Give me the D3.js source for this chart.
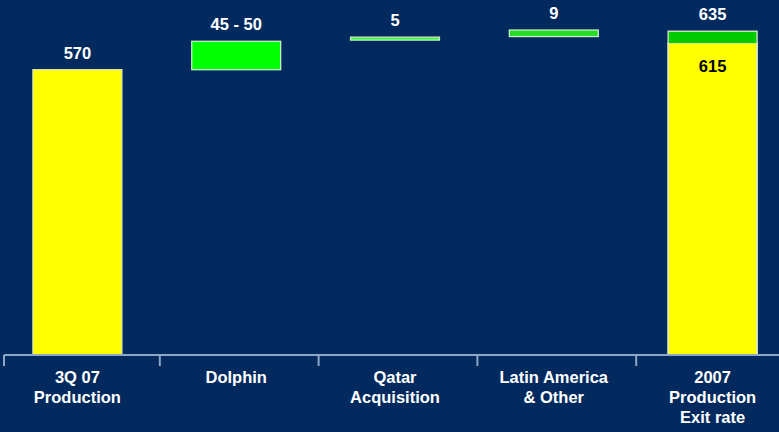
<!DOCTYPE html>
<html><head><meta charset="utf-8">
<script src="https://cdn.jsdelivr.net/npm/d3@7"></script>
<style>
html,body{margin:0;padding:0;background:#022a5e;}
svg{display:block;font-family:"Liberation Sans",Arial,sans-serif;}
</style></head>
<body>
<script>
// ---- data ----
const categories = ["3Q 07", "Dolphin", "Qatar", "Latin America", "2007"];
const categoryLines = [["3Q 07","Production"],["Dolphin"],["Qatar","Acquisition"],["Latin America","& Other"],["2007","Production","Exit rate"]];
const barStart = [88, 570, 620, 626, 88];
const barEnd   = [570, 618, 625, 637, 615];
const capEnd   = [null, null, null, null, 635];
const barKind  = ["total","increase","increase","increase","total"];
const valueLabels = ["570","45 - 50","5","9","635"];
const innerLabels = [null,null,null,null,"615"];

const W = 779, H = 432;
const axisY = 355;
const svg = d3.select("body").append("svg").attr("width", W).attr("height", H);
svg.append("rect").attr("width", W).attr("height", H).attr("fill", "#022a5e");

const x = d3.scaleBand().domain(categories).range([-2, 792]).paddingInner(0.44).paddingOuter(0.22);
const y = d3.scaleLinear().domain([88, 645]).range([axisY, 25.3]);

const fillFor = (k, i) => k === "total" ? "#ffff00" : (i === 1 ? "#00ff00" : i === 2 ? "#33ff33" : "#22dd22");
const strokeFor = k => k === "total" ? "#e8e8b0" : "#c8ecc8";

// bars
categories.forEach((c, i) => {
  const top = Math.max(barStart[i], barEnd[i]);
  const bot = Math.min(barStart[i], barEnd[i]);
  svg.append("rect")
    .attr("x", x(c)).attr("width", x.bandwidth())
    .attr("y", y(top)).attr("height", y(bot) - y(top))
    .attr("fill", fillFor(barKind[i], i))
    .attr("stroke", strokeFor(barKind[i])).attr("stroke-width", 1.3);
  if (capEnd[i] != null) {
    svg.append("rect")
      .attr("x", x(c)).attr("width", x.bandwidth())
      .attr("y", y(capEnd[i])).attr("height", y(barEnd[i]) - y(capEnd[i]))
      .attr("fill", "#00cc00");
    svg.append("rect")
      .attr("x", x(c)).attr("width", x.bandwidth())
      .attr("y", y(capEnd[i])).attr("height", y(barStart[i]) - y(capEnd[i]))
      .attr("fill", "none").attr("stroke", "#e0eccc").attr("stroke-width", 1.3);
  }
  const labelTop = capEnd[i] != null ? capEnd[i] : top;
  svg.append("text")
    .attr("x", x(c) + x.bandwidth() / 2).attr("y", y(labelTop) - 11)
    .attr("text-anchor", "middle").attr("fill", "#ffffff")
    .attr("font-weight", "bold").attr("font-size", 16.5)
    .text(valueLabels[i]);
  if (innerLabels[i]) {
    svg.append("text")
      .attr("x", x(c) + x.bandwidth() / 2).attr("y", y(barEnd[i]) + 29)
      .attr("text-anchor", "middle").attr("fill", "#000000")
      .attr("font-weight", "bold").attr("font-size", 16.5)
      .text(innerLabels[i]);
  }
});

// axis
const axisColor = "#8ea7c8";
svg.append("line").attr("x1", 4).attr("x2", W).attr("y1", axisY).attr("y2", axisY)
  .attr("stroke", axisColor).attr("stroke-width", 2);
categories.forEach((c, i) => {
  const tx = Math.max(4, x(c) - x.step() * x.paddingInner() / 2 + 3);
  svg.append("line").attr("x1", tx).attr("x2", tx).attr("y1", axisY).attr("y2", axisY + 11)
    .attr("stroke", axisColor).attr("stroke-width", 2);
  const t = svg.append("text")
    .attr("x", x(c) + x.bandwidth() / 2).attr("y", 383)
    .attr("text-anchor", "middle").attr("fill", "#ffffff")
    .attr("font-weight", "bold").attr("font-size", 16.5);
  categoryLines[i].forEach((ln, j) => {
    t.append("tspan").attr("x", x(c) + x.bandwidth() / 2).attr("dy", j === 0 ? 0 : 20).text(ln);
  });
});
</script>
</body></html>
